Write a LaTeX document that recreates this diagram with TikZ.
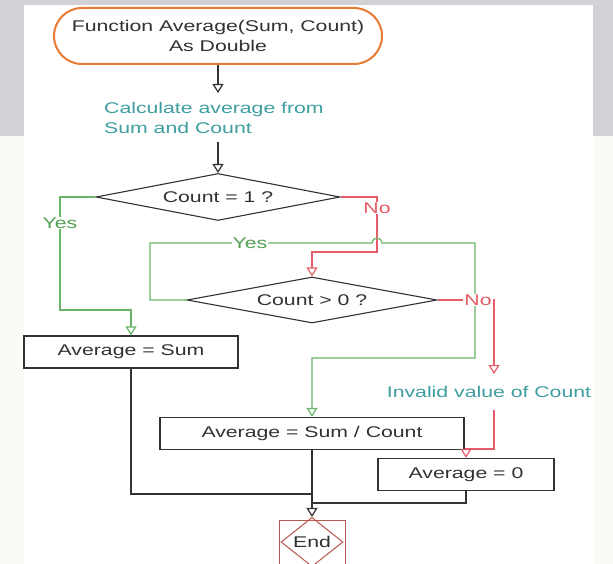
\documentclass[tikz,border=0pt]{standalone}
\usepackage{fontspec}
\setmainfont{Liberation Sans}[FakeStretch=1.37]
\usetikzlibrary{shapes.geometric,arrows.meta}

\definecolor{flowgreen}{RGB}{104,180,104}
\definecolor{yesgreen}{RGB}{82,160,82}
\definecolor{flowred}{RGB}{230,92,104}
\definecolor{noteteal}{RGB}{62,158,160}
\definecolor{termorange}{RGB}{232,122,52}
\definecolor{endred}{RGB}{184,86,80}
\definecolor{ink}{RGB}{50,50,50}
\definecolor{frame}{RGB}{211,209,214}
\definecolor{paper}{RGB}{252,250,244}

\tikzset{
  open tip/.style={-{Triangle[open,length=9pt,width=11pt]}},
  plain/.style={draw=ink,line width=1.2pt},
  yesline/.style={draw=flowgreen,line width=1.2pt},
  noline/.style={draw=flowred,line width=1.2pt},
  term/.style={rectangle,draw=termorange,line width=2pt,rounded corners=28pt,
    minimum width=328pt,minimum height=56pt,align=center,text=ink},
  decide/.style={diamond,draw=ink,line width=1.1pt,aspect=5,inner sep=0pt,text=ink},
  proc/.style={rectangle,draw=ink,line width=1.4pt,minimum height=32pt,inner sep=0pt,text=ink},
  note/.style={text=noteteal,align=left,inner sep=0pt},
  lbl/.style={fill=white,inner sep=1pt}
}

\begin{document}
\begin{tikzpicture}[x=1pt,y=-1pt,font=\fontsize{15.5}{20}\selectfont]
    % page
    \fill[frame] (0,0) rectangle (613,136);
    \fill[paper] (0,136) rectangle (613,564);
    \fill[white] (24,5) rectangle (593,564);
    \useasboundingbox (0,0) rectangle (613,564);

    \node[term] (start) at (218,36) {Function Average(Sum, Count)\\As Double};
    \node[note,anchor=west] (calc) at (104,118) {Calculate average from\\Sum and Count};
    \node[decide,minimum width=244pt,minimum height=47pt] (one) at (218,197) {Count = 1 ?};
    \node[decide,minimum width=250pt,minimum height=46pt] (pos) at (312,300) {Count > 0 ?};
    \node[proc,minimum width=214pt] (sum) at (131,352) {Average = Sum};
    \node[proc,minimum width=304pt] (div) at (312,433.5) {Average = Sum / Count};
    \node[note] (bad) at (489,392) {Invalid value of Count};
    \node[proc,minimum width=176pt] (zero) at (466,474.5) {Average = 0};
    \node[draw=endred,line width=1pt,minimum width=66pt,minimum height=50pt] (stopbox) at (312,545) {};
    \node[diamond,draw=endred,line width=1pt,inner sep=0pt,text=ink,
        minimum width=62pt,minimum height=44pt] (stop) at (312,542) {End};

    % bends
    \coordinate (c1) at (218,93);
    \coordinate (c2) at (218,142);
    \coordinate (y1) at (60,310);
    \coordinate (n1) at (377,252);
    \coordinate (g1) at (150,243);
    \coordinate (hop) at (372,243);
    \coordinate (g2) at (475,243);
    \coordinate (g3) at (475,358);
    \coordinate (r1) at (494,374);
    \coordinate (r2) at (494,410);
    \coordinate (r3) at (466,449);
    \coordinate (j1) at (312,494);
    \coordinate (j2) at (312,503);

    \draw[plain,open tip] (start) -- (c1);
    \draw[plain,open tip] (c2) -- (one);
    \draw[yesline,open tip] (one.west) -| (y1) -| (sum.north);
    \draw[noline,open tip] (one.east) -| (n1) -| (pos.north);
    \draw[yesline,open tip] (pos.west) -| (g1) -- (hop)
        arc[start angle=180,end angle=0,radius=5pt] -- (g2) -- (g3) -| (div.north);
    \draw[noline,open tip] (pos.east) -| (r1);
    \draw[noline,open tip] (r2) |- (r3) -- (zero.north);
    \draw[plain] (sum.south) |- (j1);
    \draw[plain] (zero.south) |- (j2);
    \draw[plain,open tip] (div.south) -- (stop.north);

    \node[lbl,text=yesgreen] (yes1) at (60,223) {Yes};
    \node[lbl,text=flowred] (no1) at (377,208) {No};
    \node[lbl,text=yesgreen] (yes2) at (250,243) {Yes};
    \node[lbl,text=flowred] (no2) at (478,300) {No};
\end{tikzpicture}
\end{document}
